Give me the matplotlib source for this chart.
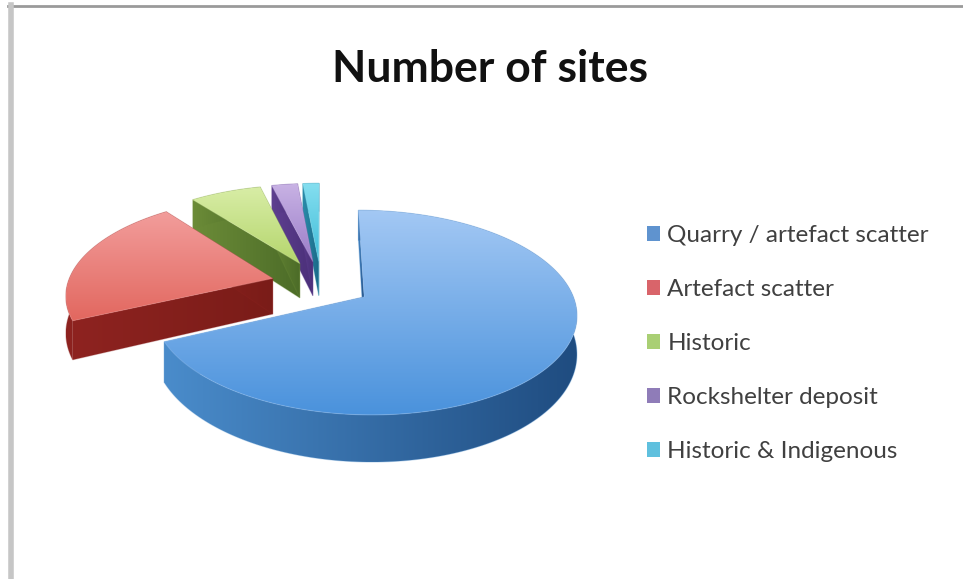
import numpy as np
import matplotlib
matplotlib.use("Agg")
import matplotlib.pyplot as plt
from matplotlib.patches import Polygon, Patch
from matplotlib.colors import LinearSegmentedColormap

title = "Number of sites"
labels = ["Quarry / artefact scatter", "Artefact scatter", "Historic",
          "Rockshelter deposit", "Historic & Indigenous"]
values = [68.1, 21.4, 6.6, 2.4, 1.5]
top_light = ["#a3c8f4", "#f29d9b", "#d8eda6", "#c8b2e4", "#86dff0"]
top_dark = ["#4a92dc", "#e2675f", "#b4d56c", "#9a7cc8", "#3fbcd8"]
wall_light = ["#4a8ccb", "#8e2320", "#6c8c38", "#5e3f90", "#2a8aa8"]
wall_dark = ["#1f4c80", "#7a1c18", "#4c6c28", "#4a2f78", "#1a6a88"]
legend_colors = ["#5f93cf", "#d9646a", "#a9cf74", "#8f7cb8", "#5fc0de"]

EXPLODE, K = 0.245, 0.15
CX, CY, RX, RY = 321, 284, 205, 96
D0, DP = 36, 1.45

fig = plt.figure(figsize=(9.63, 5.79), dpi=100)
ax = fig.add_axes([0, 0, 1, 1])
zc = [2]


def project(u, v):
    w = 1 - K * v
    return CX + RX * u / w, CY + RY * v / w


def drop(u, v):
    x, y = project(u, v)
    return x, y + D0 / (1 - K * v) ** DP


def grad_fill(x, y, c1, c2, horizontal=False):
    xy = np.column_stack([x, y])
    poly = Polygon(xy, closed=True, fc="none", ec="none", transform=ax.transData)
    ax.add_patch(poly)
    cmap = LinearSegmentedColormap.from_list("g", [c1, c2])
    g = np.linspace(0, 1, 256)
    g = g[None, :] if horizontal else g[:, None]
    zc[0] += 1
    im = ax.imshow(g, extent=[x.min(), x.max(), y.max(), y.min()], aspect="auto",
                   cmap=cmap, zorder=zc[0], interpolation="bilinear")
    im.set_clip_path(poly)
    zc[0] += 1
    ax.add_patch(Polygon(xy, closed=True, fc="none", ec=c1,
                         lw=0.8, alpha=0.3, zorder=zc[0]))


fracs = np.array(values) / sum(values) * 2 * np.pi
ends = np.cumsum(fracs)
starts = ends - fracs
shapes = []
for i in range(len(values)):
    mid = (starts[i] + ends[i]) / 2
    au, av = EXPLODE * np.sin(mid), -EXPLODE * np.cos(mid)
    th = np.linspace(starts[i], ends[i], 200)
    u, v = au + np.sin(th), av - np.cos(th)
    shapes.append((au, av, u, v))

# paint from the back slice to the front slice
for i in [4, 3, 2, 1, 0]:
    au, av, u, v = shapes[i]
    tx, ty = project(u, v)
    bx, by = drop(u, v)
    ax0, ay0 = project(au, av)
    bx0, by0 = drop(au, av)
    # radial walls
    for j in (0, -1):
        grad_fill(np.array([ax0, tx[j], bx[j], bx0]), np.array([ay0, ty[j], by[j], by0]),
                  wall_light[i], wall_dark[i], horizontal=True)
    # outer wall
    grad_fill(np.r_[tx, bx[::-1]], np.r_[ty, by[::-1]],
              wall_light[i], wall_dark[i], horizontal=True)
    # top face
    grad_fill(np.r_[ax0, tx], np.r_[ay0, ty], top_light[i], top_dark[i])

# frame of the screenshot
ax.plot([8, 963], [6, 6], color="#9a9a9a", lw=2, zorder=50)
ax.plot([10.5, 10.5], [5, 579], color="#c6c6c6", lw=4, zorder=50)

ax.text(490, 69, title, fontsize=32, fontweight="bold", family="Lato",
        color="#111111", ha="center", va="center", zorder=60)

handles = [Patch(fc=c, ec="none") for c in legend_colors]
ax.legend(handles, labels, loc="upper left", bbox_to_anchor=(647 / 963, 1 - 225 / 579),
          bbox_transform=ax.transAxes, frameon=False, handlelength=0.54, handleheight=0.54,
          handletextpad=0.3, labelspacing=1.36, borderpad=0, borderaxespad=0,
          labelcolor="#404040", prop={"family": "Lato", "size": 17.5}).set_zorder(60)

ax.set_xlim(0, 963)
ax.set_ylim(579, 0)
ax.axis("off")
fig.savefig("out.png", dpi=100, facecolor="white")
